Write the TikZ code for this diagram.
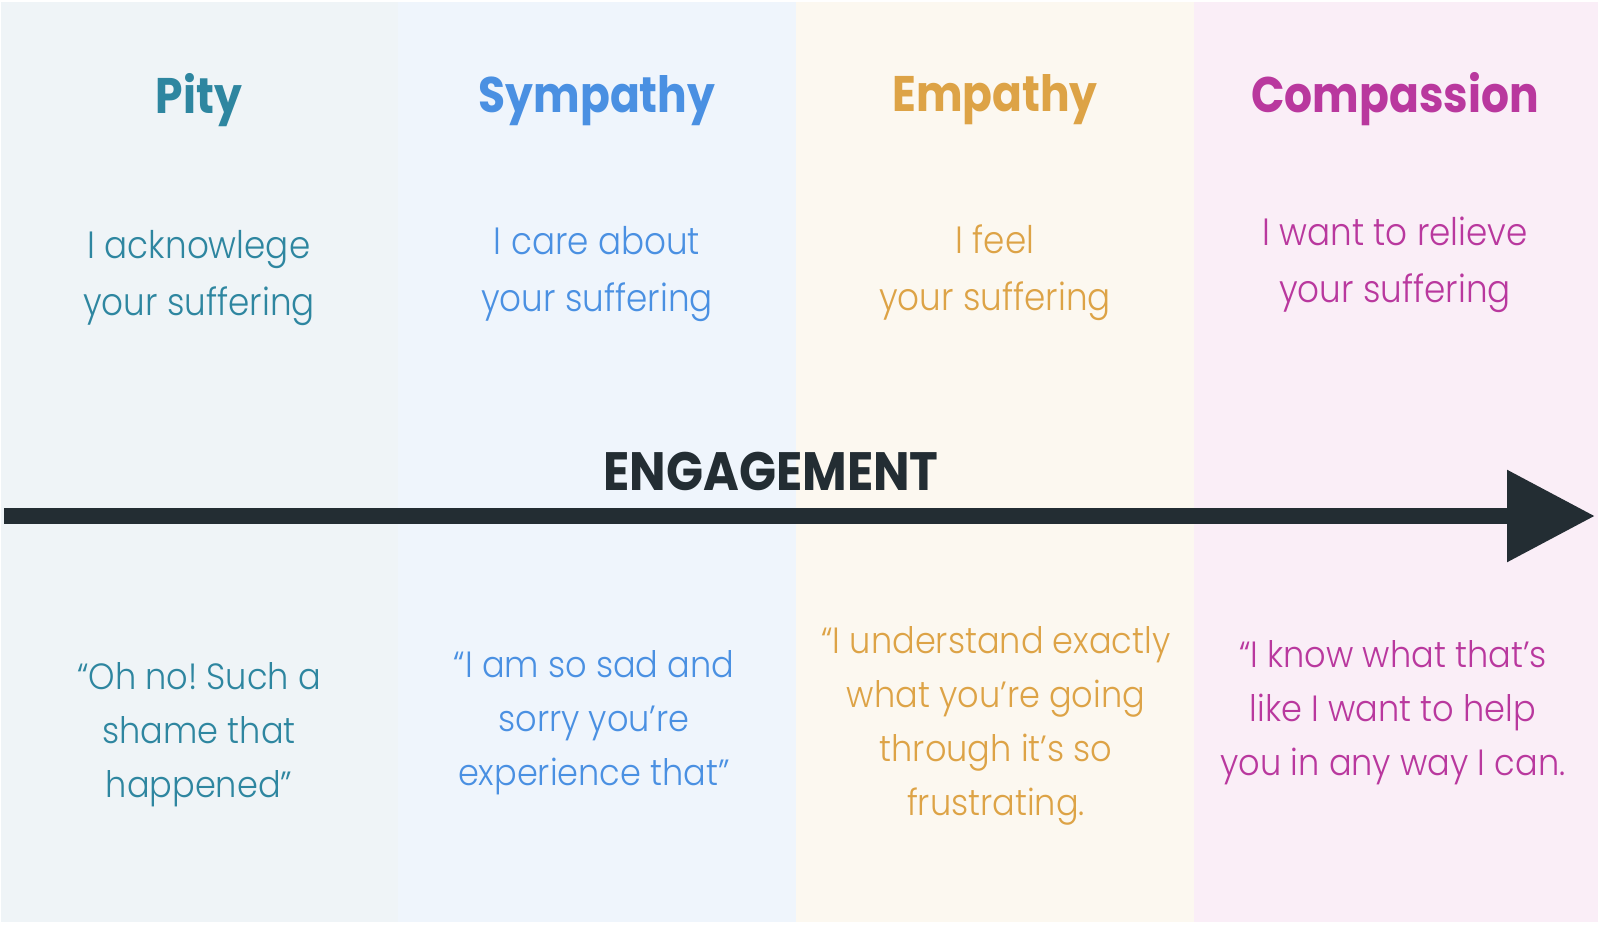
\documentclass[tikz,border=0pt]{standalone}
\usepackage{fontspec}
\usetikzlibrary{arrows.meta}
\frenchspacing
\newfontfamily\bodyf{Poppins Light}[FakeStretch=0.9]
\newfontfamily\quotef{Poppins Light}[FakeStretch=0.92]
\newfontfamily\headf{Poppins Bold}[FakeStretch=0.88]
\newfontfamily\engf{Poppins Bold}[FakeStretch=0.9]
\definecolor{cpity}{HTML}{2E86A0}
\definecolor{csym}{HTML}{4A90E2}
\definecolor{cemp}{HTML}{DDA346}
\definecolor{ccomp}{HTML}{B9389E}
\definecolor{bgpity}{HTML}{EFF4F7}
\definecolor{bgsym}{HTML}{EFF5FC}
\definecolor{bgemp}{HTML}{FCF8F0}
\definecolor{bgcomp}{HTML}{FAEEF7}
\definecolor{arrowc}{HTML}{232D33}
\tikzset{
  title/.style={anchor=base, inner sep=0pt, font=\headf\fontsize{50}{60}\selectfont},
  body/.style={anchor=base, inner sep=0pt, align=center, font=\bodyf\fontsize{38}{57}\selectfont},
  quote/.style={anchor=base, inner sep=0pt, align=center, font=\quotef\fontsize{36.5}{54}\selectfont},
}
\begin{document}
\begin{tikzpicture}[x=1pt,y=-1pt]
\useasboundingbox (0,0) rectangle (1600,924);
\fill[white] (0,0) rectangle (1600,924);
\fill[bgpity] (1,2) rectangle (398,922);
\fill[bgsym] (398,2) rectangle (796,922);
\fill[bgemp] (796,2) rectangle (1194,922);
\fill[bgcomp] (1194,2) rectangle (1598,922);

% multi-line nodes: base anchor = baseline of last line
\node[title, text=cpity] (t1) at (199,113) {Pity};
\node[title, text=csym] (t2) at (597,112) {Sympathy};
\node[title, text=cemp] (t3) at (995,111) {Empathy};
\node[title, text=ccomp] (t4) at (1395,112) {Compassion};

\node[body, text=cpity] (b1) at (199,315) {I acknowlege\\your suffering};
\node[body, text=csym] (b2) at (597,311) {I care about\\your suffering};
\node[body, text=cemp] (b3) at (995,310) {I feel\\your suffering};
\node[body, text=ccomp] (b4) at (1395,302) {I want to relieve\\your suffering};

\node[anchor=base, inner sep=0pt, text=arrowc, font=\engf\fontsize{54}{60}\selectfont] (eng) at (771,490) {ENGAGEMENT};
\coordinate (as) at (4,516);
\coordinate (ae) at (1595,516);
\draw[arrowc, line width=16pt, -{Triangle[length=88pt,width=88pt]}] (as) -- (ae);

\node[quote, text=cpity] (q1) at (199,797) {“Oh no! Such a\\shame that\\happened”};
\node[quote, text=csym] (q2) at (594,785) {“I am so sad and\\sorry you’re\\experience that”};
\node[quote, text=cemp] (q3) at (996,815) {“I understand exactly\\what you’re going\\through it’s so\\frustrating.};
\node[quote, text=ccomp] (q4) at (1393,775) {“I know what that’s\\like I want to help\\you in any way I can.};
\end{tikzpicture}
\end{document}
